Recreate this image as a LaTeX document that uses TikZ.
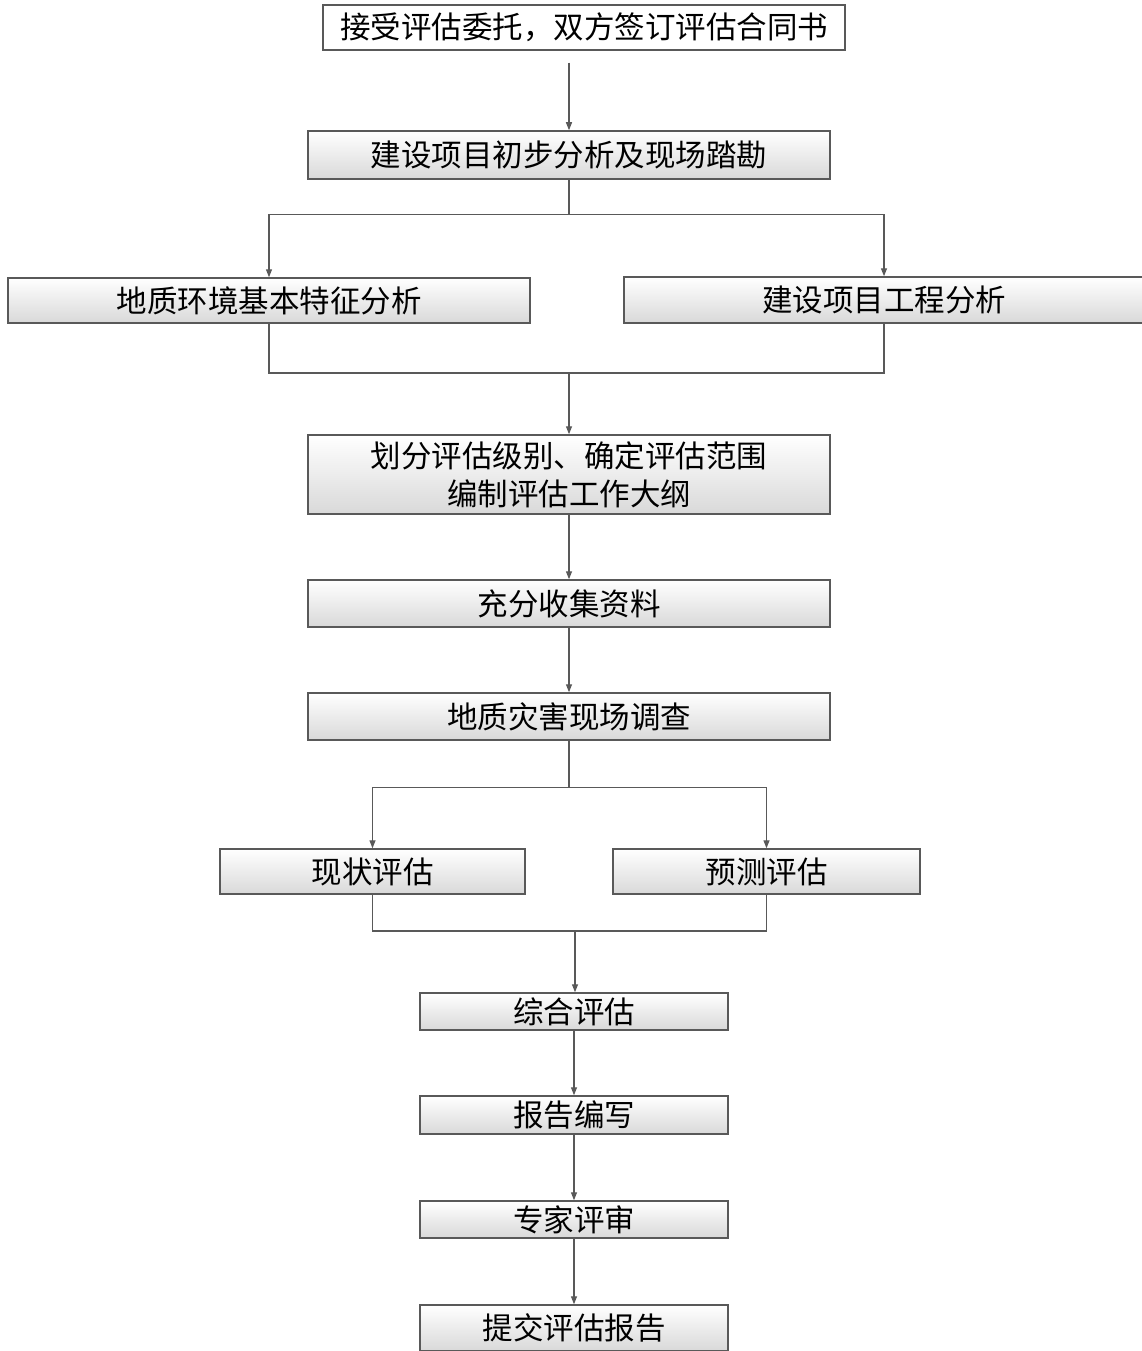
\documentclass[tikz,border=0pt]{standalone}
\usepackage{fontspec}
\newfontfamily\cjk{Noto Sans CJK SC}
\usetikzlibrary{arrows.meta}
\definecolor{lc}{HTML}{595959}
\tikzset{
  box/.style={draw=lc, line width=1.5pt, top color=white, bottom color=black!15,
    inner sep=0pt, font=\cjk\fontsize{30.5}{38}\selectfont, align=center, text=black},
  conn/.style={draw=lc, line width=1.3pt},
  arr/.style={conn, -{Triangle[length=8pt,width=6pt]}}
}
\begin{document}
\begin{tikzpicture}[x=1pt,y=-1pt]
\useasboundingbox (0,0) rectangle (1142,1351);
\fill[white] (0,0) rectangle (1142,1351);
% nodes
\node[box, fill=white, top color=white, bottom color=white, minimum width=522, minimum height=45] (b1) at (584,27.5) {接受评估委托，双方签订评估合同书};
\node[box, minimum width=522, minimum height=48] (b2) at (569,155) {建设项目初步分析及现场踏勘};
\node[box, minimum width=522, minimum height=45] (b3) at (269,300.5) {地质环境基本特征分析};
\node[box, minimum width=520, minimum height=46] (b4) at (884,300) {建设项目工程分析};
\node[box, minimum width=522, minimum height=79] (b5) at (569,474.5) {划分评估级别、确定评估范围\\编制评估工作大纲};
\node[box, minimum width=522, minimum height=47] (b6) at (569,603.5) {充分收集资料};
\node[box, minimum width=522, minimum height=47] (b7) at (569,716.5) {地质灾害现场调查};
\node[box, minimum width=305, minimum height=45] (b8) at (372.5,871.5) {现状评估};
\node[box, minimum width=307, minimum height=45] (b9) at (766.5,871.5) {预测评估};
\node[box, minimum width=308, minimum height=37] (b10) at (574,1011.5) {综合评估};
\node[box, minimum width=308, minimum height=38] (b11) at (574,1115) {报告编写};
\node[box, minimum width=308, minimum height=37] (b12) at (574,1219.5) {专家评审};
\node[box, minimum width=308, minimum height=46] (b13) at (574,1328) {提交评估报告};
\coordinate (m1) at (569,373);
\coordinate (m2) at (575,931);
% connectors
\draw[arr] (b2.north |- b1.south) ++(0,12) -- (b2.north);
\draw[arr] (b2.south) -- ++(0,35) -| (b3.north);
\draw[arr] (b2.south) -- ++(0,35) -| (b4.north);
\draw[conn] (b3.south) |- (m1) -| (b4.south);
\draw[arr] (m1) -- (b5.north);
\draw[arr] (b5.south) -- (b6.north);
\draw[arr] (b6.south) -- (b7.north);
\draw[arr] (b7.south) -- ++(0,47) -| (b8.north);
\draw[arr] (b7.south) -- ++(0,47) -| (b9.north);
\draw[conn] (b8.south) |- (m2) -| (b9.south);
\draw[arr] (m2) -- (b10.north -| m2);
\draw[arr] (b10.south) -- (b11.north);
\draw[arr] (b11.south) -- (b12.north);
\draw[arr] (b12.south) -- (b13.north);
\end{tikzpicture}
\end{document}
